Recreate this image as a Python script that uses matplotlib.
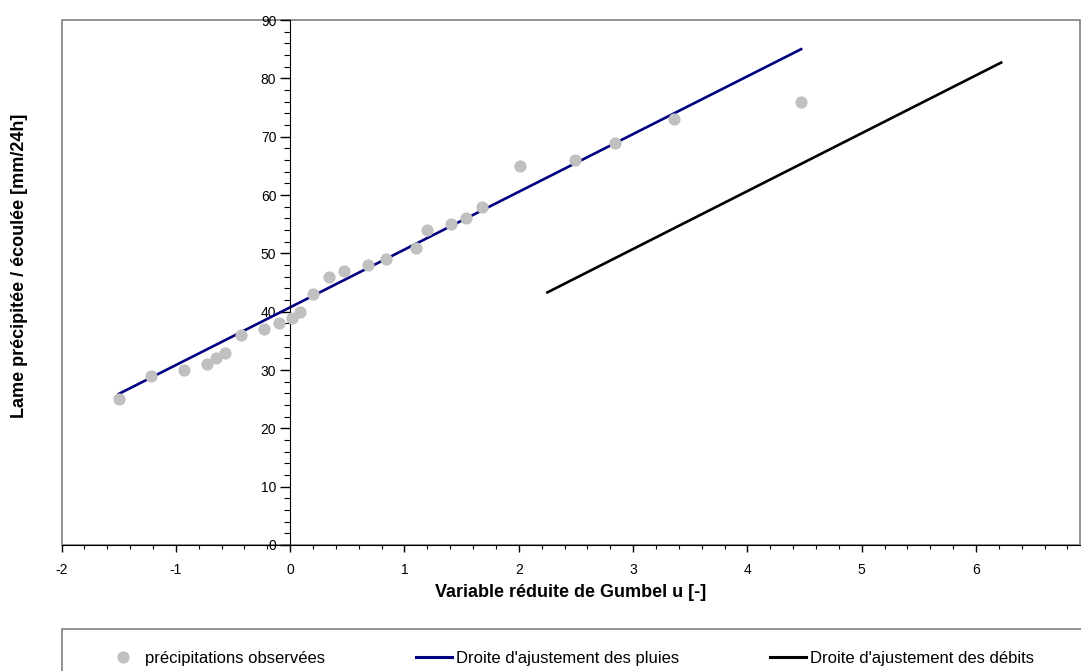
# -*- coding: utf-8 -*-
"""
Ajustement de Gumbel : précipitations observées et droites d'ajustement
"""
import matplotlib.pyplot as plt
from matplotlib.lines import Line2D
from matplotlib.patches import Rectangle
from matplotlib.ticker import MultipleLocator

plt.rcParams['font.family'] = ['Liberation Sans', 'DejaVu Sans']
plt.rcParams['axes.unicode_minus'] = False

# Précipitations observées (variable réduite u, lame en mm/24h)
u_obs = [-1.50, -1.22, -0.93, -0.73, -0.65, -0.57, -0.43, -0.23, -0.10,
         0.02, 0.09, 0.20, 0.34, 0.47, 0.68, 0.84, 1.10, 1.20, 1.41,
         1.54, 1.68, 2.01, 2.49, 2.84, 3.36, 4.47]
p_obs = [25, 29, 30, 31, 32, 33, 36, 37, 38, 39, 40, 43, 46, 47, 48, 49,
         51, 54, 55, 56, 58, 65, 66, 69, 73, 76]

# Droite d'ajustement des pluies (extrémités)
u_pluies = [-1.50, 4.47]
p_pluies = [25.9, 85.0]

# Droite d'ajustement des débits (extrémités)
u_debits = [2.25, 6.22]
q_debits = [43.3, 82.7]

W, H = 1081, 671
fig = plt.figure(figsize=(W / 100, H / 100), dpi=100)
ax = fig.add_axes([61.6 / W, 1 - 545 / H, (1080 - 61.6) / W, 525 / H])

ax.plot(u_obs, p_obs, 'o', color='#c0c0c0', markersize=7.8, zorder=3)
ax.plot(u_pluies, p_pluies, color='#000080', linewidth=1.9, zorder=2)
ax.plot(u_debits, q_debits, color='black', linewidth=1.9, zorder=2)

ax.set_xlim(-2, 6.91)
ax.set_ylim(0, 90)

# Axes croisés : l'axe des y passe par u = 0
ax.spines['left'].set_position(('data', 0))
ax.spines['left'].set_color('black')
ax.spines['bottom'].set_color('black')
ax.spines['top'].set_visible(False)
ax.spines['right'].set_visible(False)
ax.add_patch(Rectangle((0, 0), 1, 1, transform=ax.transAxes, fill=False,
                       edgecolor='#808080', linewidth=1.2, clip_on=False,
                       zorder=0))

ax.xaxis.set_major_locator(MultipleLocator(1))
ax.xaxis.set_minor_locator(MultipleLocator(0.2))
ax.yaxis.set_major_locator(MultipleLocator(10))
ax.yaxis.set_minor_locator(MultipleLocator(2))
ax.tick_params(which='major', direction='out', length=5, width=1,
               labelsize=10, pad=8)
ax.tick_params(which='minor', direction='out', length=3, width=0.8)
ax.tick_params(axis='y', which='major', length=7, pad=3)
ax.tick_params(axis='y', which='minor', length=4)

ax.set_xlabel('Variable réduite de Gumbel u [-]', fontsize=13,
              fontweight='bold', labelpad=5)
fig.text(20 / W, 1 - 266 / H, 'Lame précipitée / écoulée [mm/24h]',
         rotation=90, fontsize=13, fontweight='bold',
         ha='center', va='center')

# Légende
fig.patches.append(Rectangle((61.6 / W, -0.1), 1.0, 1.1 - 629 / H,
                             transform=fig.transFigure, fill=False,
                             edgecolor='#808080', linewidth=1.2))
handles = [
    Line2D([], [], marker='o', linestyle='none', color='#c0c0c0',
           markersize=7.8),
    Line2D([], [], color='#000080', linewidth=2.2),
    Line2D([], [], color='black', linewidth=2.2),
]
labels = ['précipitations observées', "Droite d'ajustement des pluies",
          "Droite d'ajustement des débits"]
fig.legend(handles, labels, loc='center left',
           bbox_to_anchor=(105 / W, 1 - 658 / H), ncol=3, frameon=False,
           fontsize=12, handlelength=2.16, handletextpad=0.25,
           columnspacing=5.45, borderpad=0, borderaxespad=0)

plt.savefig('out.png', dpi=100)
